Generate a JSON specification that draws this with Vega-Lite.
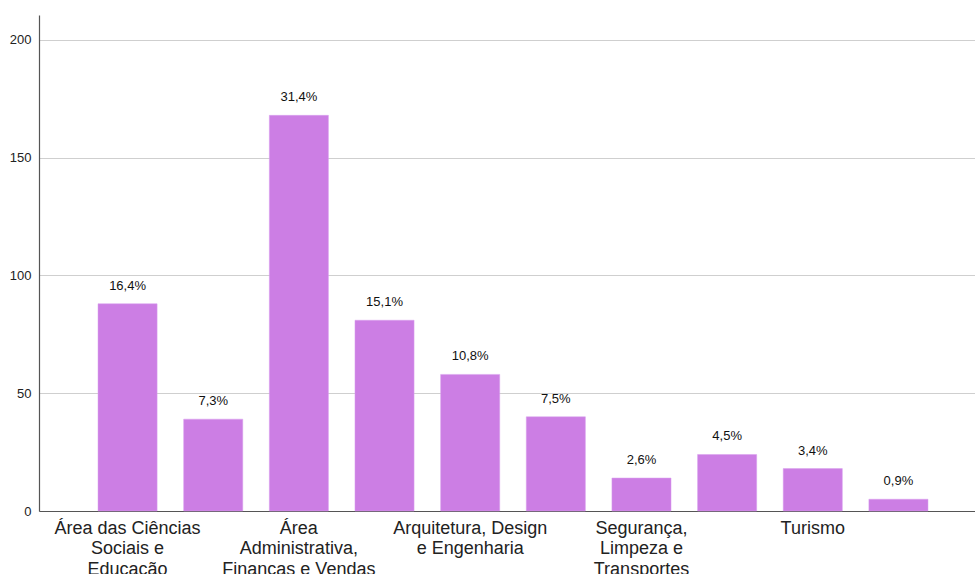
{
  "$schema": "https://vega.github.io/schema/vega-lite/v6.json",
  "width": 936,
  "height": 496,
  "autosize": {"type": "none"},
  "padding": {"left": 39, "top": 15, "right": 0, "bottom": 63},
  "background": "white",
  "config": {
    "view": {"stroke": null},
    "font": "Liberation Sans"
  },
  "data": {
    "values": [
      {"area": "Área das Ciências Sociais e Educação", "n": 88, "pct": "16,4%"},
      {"area": "Área da Saúde", "n": 39, "pct": "7,3%"},
      {"area": "Área Administrativa, Finanças e Vendas", "n": 168, "pct": "31,4%"},
      {"area": "Área de Informática", "n": 81, "pct": "15,1%"},
      {"area": "Arquitetura, Design e Engenharia", "n": 58, "pct": "10,8%"},
      {"area": "Artes e Comunicação", "n": 40, "pct": "7,5%"},
      {"area": "Segurança, Limpeza e Transportes", "n": 14, "pct": "2,6%"},
      {"area": "Hotelaria e Restauração", "n": 24, "pct": "4,5%"},
      {"area": "Turismo", "n": 18, "pct": "3,4%"},
      {"area": "Agricultura", "n": 5, "pct": "0,9%"}
    ]
  },
  "encoding": {
    "x": {
      "field": "area",
      "type": "nominal",
      "sort": null,
      "scale": {"range": [0, 948], "paddingInner": 0.31, "paddingOuter": 0.689},
      "axis": {
        "title": null,
        "labelAngle": 0,
        "ticks": false,
        "domainColor": "#555555",
        "domainWidth": 1.2,
        "labelFontSize": 18,
        "labelColor": "#222222",
        "labelPadding": 8,
        "labelLineHeight": 20.5,
        "labelBaseline": "top",
        "labelOverlap": false,
        "labelLimit": 0,
        "labelExpr": "datum.value == 'Área das Ciências Sociais e Educação' ? ['Área das Ciências', 'Sociais e', 'Educação'] : datum.value == 'Área Administrativa, Finanças e Vendas' ? ['Área', 'Administrativa,', 'Finanças e Vendas'] : datum.value == 'Arquitetura, Design e Engenharia' ? ['Arquitetura, Design', 'e Engenharia'] : datum.value == 'Segurança, Limpeza e Transportes' ? ['Segurança,', 'Limpeza e', 'Transportes'] : datum.value == 'Turismo' ? 'Turismo' : ''"
      }
    },
    "y": {
      "field": "n",
      "type": "quantitative",
      "scale": {"domain": [0, 210.6], "nice": false},
      "axis": {
        "title": null,
        "values": [0, 50, 100, 150, 200],
        "ticks": false,
        "domainColor": "#555555",
        "domainWidth": 1.2,
        "gridColor": "#cfcfcf",
        "gridWidth": 1,
        "labelFontSize": 13,
        "labelColor": "#222222",
        "labelPadding": 8
      }
    }
  },
  "layer": [
    {
      "mark": {"type": "bar", "color": "#cc7ee4", "stroke": "#d9a0ee", "strokeWidth": 0.5}
    },
    {
      "mark": {"type": "text", "baseline": "alphabetic", "dy": -14, "fontSize": 13, "color": "#111111"},
      "encoding": {"text": {"field": "pct"}}
    }
  ]
}
